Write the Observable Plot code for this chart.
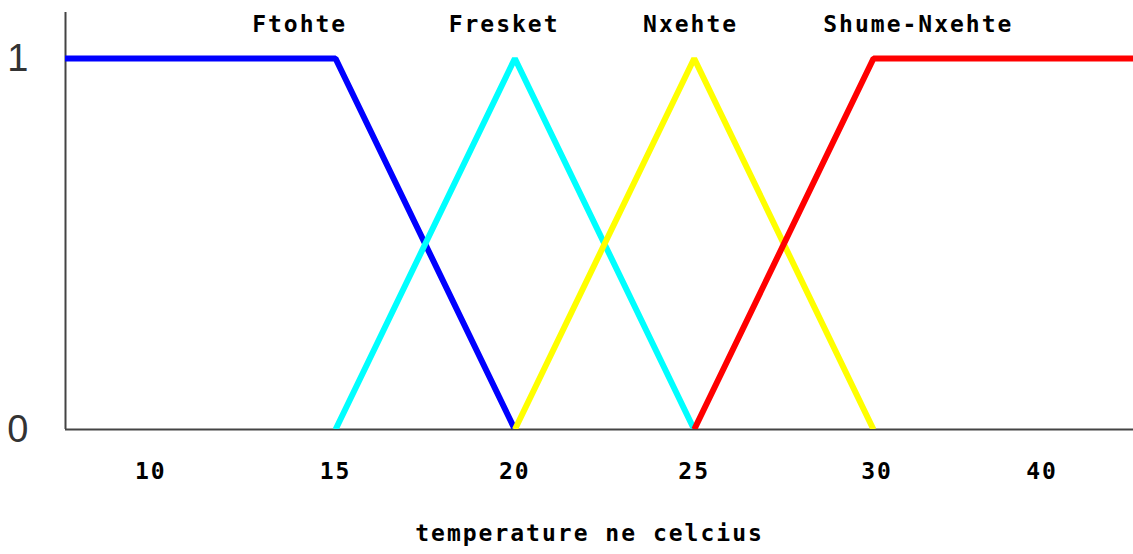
<!DOCTYPE html>
<html>
<head>
<meta charset="utf-8">
<script src="https://cdn.jsdelivr.net/npm/d3@7"></script>
<script src="https://cdn.jsdelivr.net/npm/@observablehq/plot@0.6"></script>
<style>
  html, body { margin: 0; padding: 0; background: #fff; }
  #chart .mono text { letter-spacing: 2px; }
</style>
</head>
<body>
<div id="chart"></div>
<script>
// ---- data ----
const xDomain = [7.47, 37.25];
const xTicks = [9.85, 15, 20, 25, 30.1, 34.7];
const xTickLabels = ["10", "15", "20", "25", "30", "40"];
const yTicks = [0, 1];
const yTickLabels = ["0", "1"];

const setNames = ["Ftohte", "Fresket", "Nxehte", "Shume-Nxehte"];
const setColors = ["#0000ff", "#00ffff", "#ffff00", "#ff0000"];

const ftohteX = [7, 15, 20];
const ftohteY = [1, 1, 0];
const fresketX = [15, 20, 25];
const fresketY = [0, 1, 0];
const nxehteX = [20, 25, 30];
const nxehteY = [0, 1, 0];
const shumeX = [25, 30, 38];
const shumeY = [0, 1, 1];

const labelX = [14.0, 19.7, 24.9, 31.25];
const labelY = [1.092, 1.092, 1.092, 1.092];

const axisTitle = "temperature ne celcius";

// ---- build rows ----
const seriesX = [ftohteX, fresketX, nxehteX, shumeX];
const seriesY = [ftohteY, fresketY, nxehteY, shumeY];
const rows = [];
setNames.forEach((name, i) => {
  seriesX[i].forEach((x, j) => rows.push({set: name, x, y: seriesY[i][j]}));
});
const labels = setNames.map((name, i) => ({name, x: labelX[i], y: labelY[i]}));

const mono = "'DejaVu Sans Mono', 'Liberation Mono', monospace";

const chart = Plot.plot({
  width: 1133,
  height: 554,
  marginLeft: 65,
  marginRight: 0,
  marginTop: 12,
  marginBottom: 125,
  x: {domain: xDomain},
  y: {domain: [0, 1.124]},
  color: {domain: setNames, range: setColors},
  style: {background: "#fff", overflow: "visible"},
  marks: [
    Plot.ruleY([0], {stroke: "#444", strokeWidth: 2}),
    Plot.ruleX([xDomain[0]], {stroke: "#444", strokeWidth: 2}),
    Plot.line(rows, {
      x: "x", y: "y", z: "set", stroke: "set",
      strokeWidth: 6, strokeLinejoin: "miter", strokeLinecap: "butt", clip: true
    }),
    Plot.axisX(xTicks, {
      tickSize: 0, tickPadding: 33,
      tickFormat: d => xTickLabels[xTicks.indexOf(d)],
      fontSize: 23, fontFamily: mono, fontWeight: "bold", fill: "#000",
      label: null, className: "mono"
    }),
    Plot.axisY(yTicks, {
      tickSize: 0, tickPadding: 37,
      tickFormat: d => yTickLabels[yTicks.indexOf(d)],
      fontSize: 38, fontFamily: "'Liberation Sans', Arial, sans-serif", fill: "#333",
      label: null
    }),
    Plot.text(labels, {
      x: "x", y: "y", text: "name",
      fontSize: 23, fontFamily: mono, fontWeight: "bold", fill: "#000",
      className: "mono"
    }),
    Plot.text([axisTitle], {
      frameAnchor: "bottom", dy: 111, dx: -10, text: d => d,
      fontSize: 23, fontFamily: mono, fontWeight: "bold", fill: "#000",
      className: "mono"
    })
  ]
});
document.getElementById("chart").appendChild(chart);
</script>
</body>
</html>
